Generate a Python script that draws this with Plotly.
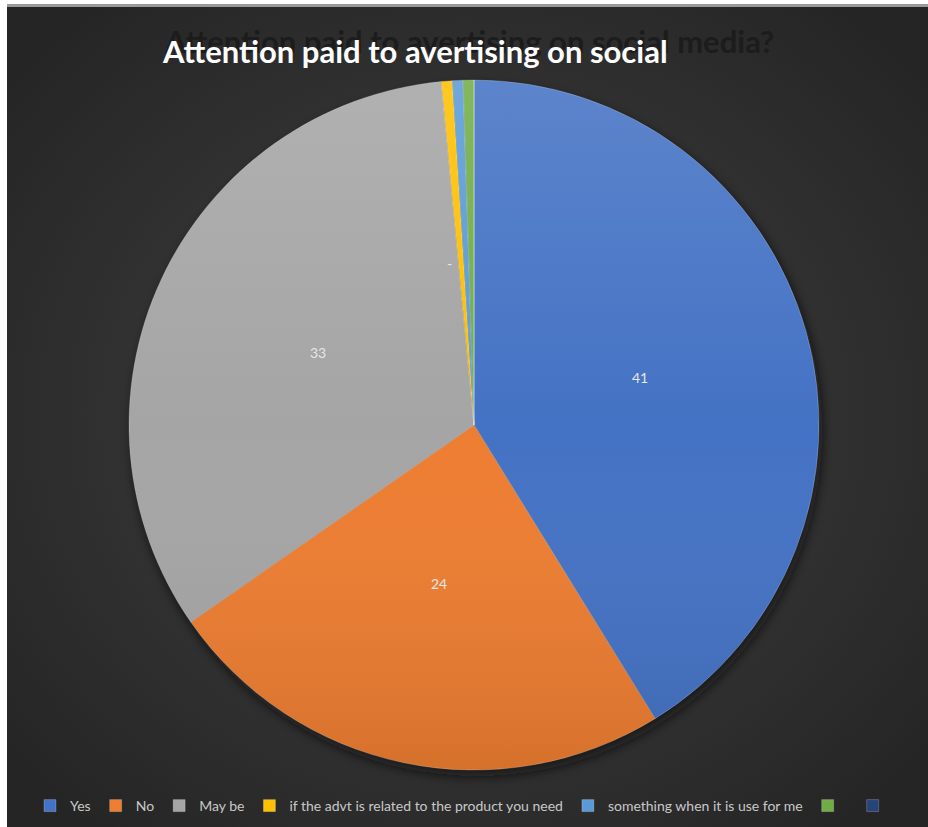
import base64
import math

import plotly.graph_objects as go

# ---- data -------------------------------------------------------------
CATEGORIES = [
    "Yes",
    "No",
    "May be",
    "if the advt is related to the product you need",
    "something when it is use for me",
    "\u200b",
    "\u200b\u200b",
]
VALUES = [41, 24, 33, 0.5, 0.5, 0.5, 0]
COLORS = ["#4472C4", "#ED7D31", "#A5A5A5", "#FFC000", "#5B9BD5", "#70AD47", "#264478"]

TITLE = "Attention paid to avertising on social"
GHOST_TITLE = "Attention paid to avertising on social media?"

# ---- layout geometry (pixels) -----------------------------------------
W, H = 928, 827
PIE_CX, PIE_CY, PIE_R = 474, 425, 345
FONT = "Lato"


def px_x(x):
    return x / W


def px_y(y):
    return 1 - y / H


def svg_uri(body, defs=""):
    svg = (
        f"<svg xmlns='http://www.w3.org/2000/svg' width='{W}' height='{H}' "
        f"viewBox='0 0 {W} {H}' preserveAspectRatio='none'><defs>{defs}</defs>{body}</svg>"
    )
    return "data:image/svg+xml;base64," + base64.b64encode(svg.encode()).decode()


# background: white frame strip + dark radial gradient + soft pie shadow
bg_defs = (
    "<radialGradient id='bg' cx='50%' cy='50%' r='65%'>"
    "<stop offset='0%' stop-color='#424242'/><stop offset='100%' stop-color='#252525'/>"
    "</radialGradient>"
    "<filter id='blur' x='-20%' y='-20%' width='140%' height='140%'>"
    "<feGaussianBlur stdDeviation='6'/></filter>"
)
bg_body = (
    f"<rect x='0' y='0' width='{W}' height='{H}' fill='#ffffff'/>"
    f"<rect x='7' y='4' width='{W - 7}' height='3' fill='#9a9a9a'/>"
    f"<rect x='7' y='7' width='{W - 7}' height='{H - 7}' fill='url(#bg)'/>"
    f"<circle cx='{PIE_CX + 3}' cy='{PIE_CY + 6}' r='{PIE_R}' fill='#121212' "
    "fill-opacity='0.75' filter='url(#blur)'/>"
)
bg_uri = svg_uri(bg_body, bg_defs)

# soft top-to-bottom shading laid over the pie disc
shade_defs = (
    "<linearGradient id='sh' x1='0' y1='0' x2='0' y2='1'>"
    "<stop offset='0%' stop-color='#ffffff' stop-opacity='0.13'/>"
    "<stop offset='50%' stop-color='#ffffff' stop-opacity='0'/>"
    "<stop offset='100%' stop-color='#000000' stop-opacity='0.10'/>"
    "</linearGradient>"
)
shade_body = f"<circle cx='{PIE_CX}' cy='{PIE_CY}' r='{PIE_R}' fill='url(#sh)'/>"
shade_uri = svg_uri(shade_body, shade_defs)

fig = go.Figure(
    go.Pie(
        labels=CATEGORIES,
        values=VALUES,
        sort=False,
        direction="clockwise",
        rotation=0,
        marker=dict(colors=COLORS, line=dict(color="rgba(255,255,255,0.35)", width=0.6)),
        textinfo="none",
        hoverinfo="label+value",
        domain=dict(
            x=[px_x(PIE_CX - PIE_R), px_x(PIE_CX + PIE_R)],
            y=[px_y(PIE_CY + PIE_R), px_y(PIE_CY - PIE_R)],
        ),
        showlegend=True,
    )
)

# data labels placed at half radius along each slice's mid-angle
total = sum(VALUES)
annotations = []
cum = 0.0
for i, v in enumerate(VALUES):
    mid = (cum + v / 2) / total * 2 * math.pi
    cum += v
    if i > 3:
        continue
    small = v < 1
    text = "-" if small else f"{v:.0f}"
    lx = PIE_CX + 0.5 * PIE_R * math.sin(mid)
    ly = PIE_CY - 0.5 * PIE_R * math.cos(mid)
    annotations.append(
        dict(
            x=px_x(lx - 6) if small else px_x(lx), y=px_y(ly), xref="paper", yref="paper",
            xanchor="right" if small else "center",
            text=text, showarrow=False,
            font=dict(family=FONT, size=14, color="#e6e6e6"),
        )
    )

# dark echo of the full title behind the main one
annotations.append(
    dict(
        x=px_x(162), y=px_y(41), xref="paper", yref="paper",
        xanchor="left", yanchor="middle",
        text=f"<b>{GHOST_TITLE}</b>", showarrow=False,
        font=dict(family=FONT, size=31, color="#1c1c1c"),
    )
)
annotations.append(
    dict(
        x=px_x(160), y=px_y(51), xref="paper", yref="paper",
        xanchor="left", yanchor="middle",
        text=f"<b>{TITLE}</b>", showarrow=False,
        font=dict(family=FONT, size=31, color="#ffffff"),
    )
)

fig.update_layout(
    width=W,
    height=H,
    margin=dict(l=0, r=0, t=0, b=0),
    paper_bgcolor="#ffffff",
    plot_bgcolor="rgba(0,0,0,0)",
    images=[
        dict(
            source=bg_uri, xref="paper", yref="paper",
            x=0, y=1, sizex=1, sizey=1, sizing="stretch",
            xanchor="left", yanchor="top", layer="below",
        ),
        dict(
            source=shade_uri, xref="paper", yref="paper",
            x=0, y=1, sizex=1, sizey=1, sizing="stretch",
            xanchor="left", yanchor="top", layer="above",
        ),
    ],
    annotations=annotations,
    legend=dict(
        orientation="h",
        x=0.5, xanchor="center",
        y=px_y(806), yanchor="middle",
        font=dict(family=FONT, size=14, color="#c8c8c8"),
        itemwidth=30,
        bgcolor="rgba(0,0,0,0)",
        traceorder="normal",
    ),
)

fig.write_html("out.html")
